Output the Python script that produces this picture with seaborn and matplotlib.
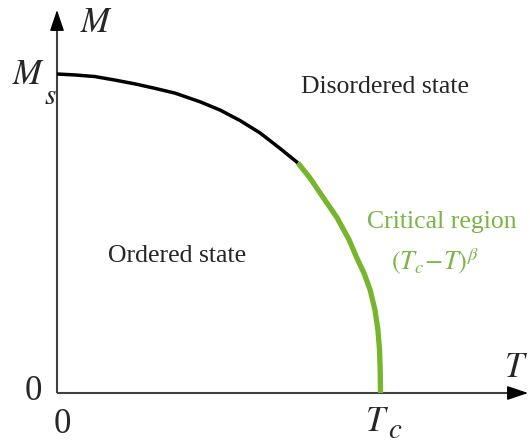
import matplotlib
matplotlib.use("Agg")
import matplotlib.pyplot as plt
import numpy as np
import pandas as pd
import seaborn as sns

# Magnetization curve M(T), normalised so that M(0) = Ms = 1 and M(Tc) = 0
T_values = [0.000, 0.056, 0.117, 0.179, 0.241, 0.303, 0.365, 0.442, 0.504,
            0.566, 0.628, 0.689, 0.745, 0.782, 0.822, 0.866, 0.903, 0.927,
            0.949, 0.968, 0.983, 0.992, 0.997, 0.999, 1.000]
M_values = [1.000, 0.997, 0.992, 0.981, 0.969, 0.955, 0.940, 0.913, 0.887,
            0.854, 0.815, 0.767, 0.721, 0.674, 0.614, 0.549, 0.480, 0.423,
            0.376, 0.323, 0.260, 0.197, 0.135, 0.072, 0.000]
T_critical_start = 0.745

region_labels = ["Disordered state", "Ordered state", "Critical region"]

GREEN = "#77b52d"
GREEN_TEXT = "#7bb545"
AXIS_GREY = "#404040"

sns.set_style("white")
plt.rcParams["font.family"] = ["Liberation Serif", "DejaVu Serif"]
plt.rcParams["mathtext.fontset"] = "stix"

curve = pd.DataFrame({"T": T_values, "M": M_values})
ordered = curve[curve["T"] <= T_critical_start]
critical = curve[curve["T"] >= T_critical_start]

X0, XS = 57, 323.5
Y0, YS = 393, 319

fig = plt.figure(figsize=(5.3, 4.44), dpi=100)
ax = fig.add_axes([0, 0, 1, 1])
ax.set_xlim(-X0 / XS, (530 - X0) / XS)
ax.set_ylim(-(444 - Y0) / YS, Y0 / YS)
ax.axis("off")

def px(x, y):
    return ((x - X0) / XS, (Y0 - y) / YS)

# Axes with arrow heads
x_end, _ = px(528, 0)
_, y_end = px(0, 10)
ax.plot([0, x_end - 0.03], [0, 0], color=AXIS_GREY, lw=1.5, solid_capstyle="butt")
ax.plot([0, 0], [0, y_end - 0.03], color=AXIS_GREY, lw=1.5, solid_capstyle="butt")
arrow = dict(arrowstyle="-|>,head_length=0.65,head_width=0.22", color="black",
             lw=1.0, mutation_scale=20, shrinkA=0, shrinkB=0)
ax.annotate("", xy=(x_end, 0), xytext=(x_end - 0.05, 0), arrowprops=arrow)
ax.annotate("", xy=(0, y_end), xytext=(0, y_end - 0.05), arrowprops=arrow)

# Ordered branch and critical branch of the curve
sns.lineplot(data=ordered, x="T", y="M", sort=False, color="black", lw=2.5,
             ax=ax, solid_capstyle="butt", solid_joinstyle="round")
sns.lineplot(data=critical, x="T", y="M", sort=False, color=GREEN, lw=3.8,
             ax=ax, solid_capstyle="butt", solid_joinstyle="round")
ax.set_xlabel("")
ax.set_ylabel("")

math_size = 25
sub_size = 21
ax.text(*px(80, 23), r"$M$", fontsize=math_size, ha="left", va="center")
ax.text(*px(12, 84), r"$M$", fontsize=math_size, ha="left", va="baseline")
ax.text(*px(44, 104), r"$s$", fontsize=sub_size, ha="left", va="baseline")
ax.text(*px(528, 377), r"$T$", fontsize=math_size, ha="right", va="baseline")
ax.text(*px(33, 400), "0", fontsize=math_size, ha="center", va="baseline")
ax.text(*px(62, 433), "0", fontsize=math_size, ha="center", va="baseline")
ax.text(*px(365, 431), r"$T$", fontsize=math_size, ha="left", va="baseline")
ax.text(*px(388, 438), r"$c$", fontsize=sub_size, ha="left", va="baseline")

ax.text(*px(385, 93), region_labels[0], fontsize=18.5, ha="center", va="baseline")
ax.text(*px(177, 262), region_labels[1], fontsize=18.5, ha="center", va="baseline")
ax.text(*px(442, 228), region_labels[2], fontsize=18.5, ha="center", va="baseline",
        color=GREEN_TEXT)
ax.text(*px(435, 270), r"$(T_c\!-\!T)^{\beta}$", fontsize=19, ha="center",
        va="baseline", color=GREEN_TEXT)

fig.savefig("out.png", dpi=100)
